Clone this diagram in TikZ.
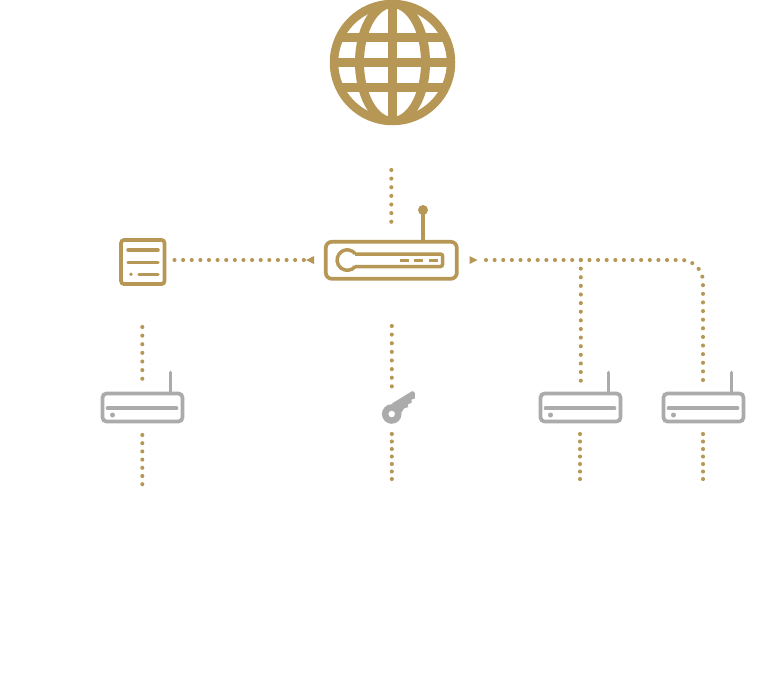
\documentclass[tikz,border=0pt]{standalone}
\usetikzlibrary{decorations.markings}
\definecolor{gold}{HTML}{B69755}
\definecolor{ash}{HTML}{ABABAB}
\tikzset{
  dotted path/.style={decoration={markings,mark=between positions 0 and 1 step #1 with {\fill[gold] (0,0) circle (2.05pt);}},decorate},
  dotsA/.style={dotted path=8.62pt},
  dotsB/.style={dotted path=7.5pt},
  dotsC/.style={dotted path=8.2pt},
  goldline/.style={draw=gold,line width=3.5pt,line cap=round},
  ashline/.style={draw=ash,line width=3.7pt,line cap=round},
  icon/.style={inner sep=0pt,outer sep=0pt,rectangle,line width=3.7pt},
  grouter/.pic={
    \node[icon,draw=ash,rounded corners=4pt,minimum width=80pt,minimum height=28pt] (-body) at (0,0) {};
    \draw[ashline] (-35,0.8) -- (34,0.8);
    \fill[ash] (-30,7.5) circle (2.5pt);
    \draw[ashline] (28,-14) -- (28,-35);
  }
}
\begin{document}
\begin{tikzpicture}[x=1pt,y=-1pt]
\useasboundingbox (0,0) rectangle (783,696);
% globe
\node[circle,draw=gold,line width=8.5pt,minimum size=117pt,inner sep=0pt,outer sep=0pt] (globe) at (392.5,62.5) {};
\begin{scope}
\clip (392.5,62.5) circle (60pt);
\draw[gold,line width=9pt] (392.5,62.5) ellipse (33pt and 59pt);
\draw[gold,line width=9pt] (392.5,0) -- (392.5,125);
\draw[gold,line width=9pt] (330,37.5) -- (455,37.5);
\draw[gold,line width=9pt] (330,62.5) -- (455,62.5);
\draw[gold,line width=9pt] (330,87.5) -- (455,87.5);
\end{scope}
% main router
\node[icon,draw=gold,rounded corners=6pt,minimum width=131pt,minimum height=37pt] (router) at (391.3,260.3) {};
\draw[draw=gold,line width=3.5pt,rounded corners=2pt] (355.2,254) -- (442.5,254) -- (442.5,266.5) -- (355.2,266.5);
\draw[draw=gold,line width=3.5pt] (355.2,266.5) arc (-39:-321:10.2pt);
\draw[gold,line width=3.2pt] (400,260.3) -- (409,260.3) (414,260.3) -- (423,260.3) (429,260.3) -- (438,260.3);
\draw[gold,line width=3.5pt] (423,241.5) -- (423,210);
\fill[gold] (423,210) circle (5pt);
% document
\node[icon,draw=gold,rounded corners=3pt,minimum width=43.5pt,minimum height=44pt] (doc) at (142.8,262) {};
\draw[goldline] (128,250) -- (158,250) (128,262.3) -- (158,262.3) (139,274.3) -- (158,274.3);
\fill[gold] (131,274.3) circle (1.9pt);
% grey routers
\pic (g1) at (142.5,407.5) {grouter};
\pic (g2) at (580.5,407.5) {grouter};
\pic (g3) at (703.5,407.5) {grouter};
% key
\node[inner sep=0pt,minimum size=19pt] (key) at (391.7,414) {};
\fill[ash,even odd rule] (391.7,414) circle (9.8pt) (391.7,414) circle (3.4pt);
\fill[ash] (392,403.5) -- (411.5,391.5) -- (413,391.2) -- (414.8,393) -- (414.8,398.5) -- (411.5,399.5) -- (411.5,403)
  -- (408.2,404) -- (408.2,407) -- (404,408.5) -- (401,413) -- cycle;
% arrowheads
\fill[gold] (306,260) -- (314,256) -- (314,264) -- cycle;
\fill[gold] (477.5,260) -- (469.5,256) -- (469.5,264) -- cycle;
% anchors of the connectors
\coordinate (gb) at (391.3,170); \coordinate (rt) at (391.3,223);
\coordinate (dr) at (174.5,260); \coordinate (rl) at (304,260);
\coordinate (rr) at (486,260); \coordinate (j) at (580.8,260);
\coordinate (c3) at (703,260); \coordinate (g2t) at (580.8,381); \coordinate (g3t) at (703,381);
\coordinate (g1t) at (142.3,381); \coordinate (dd) at (142.3,327);
\coordinate (rb) at (391.8,326); \coordinate (kt) at (391.8,388);
\coordinate (g1b) at (142.3,435); \coordinate (g1e) at (142.3,485);
\coordinate (kb) at (391.8,434); \coordinate (ke) at (391.8,479.5);
\coordinate (g2b) at (580,434); \coordinate (g2e) at (580,479.5);
\coordinate (g3b) at (703,434); \coordinate (g3e) at (703,479.5);
% connectors
\path[dotsA] (gb) -- (rt);
\path[dotsA] (dr) -- (rl);
\path[dotsA,rounded corners=22pt] (rr) -- (c3) -- (g3t);
\path[dotsA] (j) -- (g2t);
\path[dotsA] (dd) -- (g1t);
\path[dotsA] (rb) -- (kt);
\path[dotsC] (g1b) -- (g1e);
\path[dotsB] (kb) -- (ke);
\path[dotsB] (g2b) -- (g2e);
\path[dotsB] (g3b) -- (g3e);
\end{tikzpicture}
\end{document}
